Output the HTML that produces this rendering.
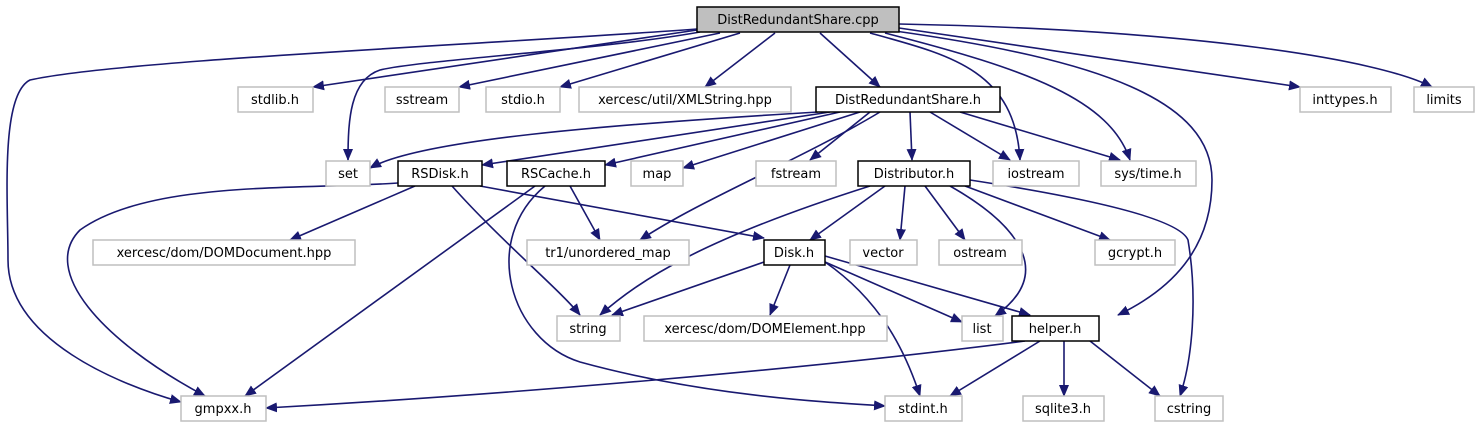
<!DOCTYPE html>
<html><head><meta charset="utf-8"><style>
html,body{margin:0;padding:0;background:#fff;width:1480px;height:427px;overflow:hidden}
text{font-family:"DejaVu Sans","Liberation Sans",sans-serif;font-size:13px;fill:#000}
.e{fill:none;stroke:#191970;stroke-width:1.6;marker-end:url(#a)}
.g{fill:#fff;stroke:#bfbfbf;stroke-width:1.5}
.b{fill:#fff;stroke:#000;stroke-width:1.5}
</style></head><body>
<svg width="1480" height="427" xmlns="http://www.w3.org/2000/svg">
<defs><marker id="a" markerWidth="12" markerHeight="10" refX="11" refY="5" orient="auto" markerUnits="userSpaceOnUse"><polygon points="0,0 12,5 0,10" fill="#191970"/></marker></defs>
<g>
<path class="e" d="M697,29 C480,45 120,60 30,80 C0,95 8,200 8,260 C8,340 120,385 181,402"/>
<path class="e" d="M697,30 L313,87"/>
<path class="e" d="M700,32 C600,50 420,60 380,70 C350,80 348,120 348,160"/>
<path class="e" d="M720,33 L459,87"/>
<path class="e" d="M740,33 L560,87"/>
<path class="e" d="M775,33 L705,87"/>
<path class="e" d="M820,33 L880,87"/>
<path class="e" d="M870,33 C950,55 1015,70 1020,160"/>
<path class="e" d="M885,33 C1030,70 1110,100 1130,160"/>
<path class="e" d="M895,31 C1100,60 1212,100 1212,180 C1212,250 1170,290 1118,315"/>
<path class="e" d="M899,28 L1300,87"/>
<path class="e" d="M899,24 C1200,30 1380,60 1432,87"/>
<path class="e" d="M818,112 C600,125 420,140 370,168"/>
<path class="e" d="M830,112 L482,165"/>
<path class="e" d="M840,112 L605,165"/>
<path class="e" d="M860,112 L683,168"/>
<path class="e" d="M880,112 C800,160 700,200 640,240"/>
<path class="e" d="M870,112 L810,160"/>
<path class="e" d="M910,112 L912,160"/>
<path class="e" d="M930,112 L1010,160"/>
<path class="e" d="M960,112 L1120,160"/>
<path class="e" d="M398,183 C300,190 150,180 80,230 C40,270 100,340 205,396"/>
<path class="e" d="M415,186 L290,240"/>
<path class="e" d="M452,186 C500,240 560,290 580,315"/>
<path class="e" d="M480,186 L764,238"/>
<path class="e" d="M535,186 L245,396"/>
<path class="e" d="M545,186 C480,240 510,340 580,362 C700,395 820,402 885,406"/>
<path class="e" d="M570,186 L600,240"/>
<path class="e" d="M885,186 L810,240"/>
<path class="e" d="M870,186 C700,240 640,280 600,315"/>
<path class="e" d="M905,186 L900,240"/>
<path class="e" d="M925,186 L965,240"/>
<path class="e" d="M950,186 C1010,220 1060,270 995,316"/>
<path class="e" d="M965,186 L1110,240"/>
<path class="e" d="M970,180 C1100,200 1180,220 1188,240 C1198,300 1192,360 1180,396"/>
<path class="e" d="M764,262 L612,315"/>
<path class="e" d="M790,265 L770,315"/>
<path class="e" d="M825,262 C880,300 905,350 920,396"/>
<path class="e" d="M825,262 L962,322"/>
<path class="e" d="M825,256 L1030,315"/>
<path class="e" d="M1025,341 C800,370 500,395 266,408"/>
<path class="e" d="M1040,341 L950,396"/>
<path class="e" d="M1064,341 L1064,396"/>
<path class="e" d="M1090,341 L1160,396"/>
</g>
<g text-anchor="middle">
<rect x="697" y="7" width="202" height="25" fill="#bfbfbf" stroke="#000" stroke-width="1.5"/><text x="798" y="24">DistRedundantShare.cpp</text>
<rect class="g" x="238" y="87" width="75" height="25"/><text x="275" y="104">stdlib.h</text>
<rect class="g" x="385" y="87" width="74" height="25"/><text x="422" y="104">sstream</text>
<rect class="g" x="486" y="87" width="74" height="25"/><text x="523" y="104">stdio.h</text>
<rect class="g" x="579" y="87" width="212" height="25"/><text x="685" y="104">xercesc/util/XMLString.hpp</text>
<rect class="b" x="816" y="87" width="184" height="25"/><text x="908" y="104">DistRedundantShare.h</text>
<rect class="g" x="1300" y="87" width="91" height="25"/><text x="1345" y="104">inttypes.h</text>
<rect class="g" x="1414" y="87" width="60" height="25"/><text x="1444" y="104">limits</text>
<rect class="g" x="326" y="161" width="44" height="25"/><text x="348" y="178">set</text>
<rect class="b" x="398" y="161" width="84" height="25"/><text x="440" y="178">RSDisk.h</text>
<rect class="b" x="507" y="161" width="98" height="25"/><text x="556" y="178">RSCache.h</text>
<rect class="g" x="631" y="161" width="52" height="25"/><text x="657" y="178">map</text>
<rect class="g" x="756" y="161" width="80" height="25"/><text x="796" y="178">fstream</text>
<rect class="b" x="858" y="161" width="112" height="25"/><text x="914" y="178">Distributor.h</text>
<rect class="g" x="993" y="161" width="86" height="25"/><text x="1036" y="178">iostream</text>
<rect class="g" x="1101" y="161" width="95" height="25"/><text x="1148" y="178">sys/time.h</text>
<rect class="g" x="93" y="240" width="262" height="25"/><text x="224" y="257">xercesc/dom/DOMDocument.hpp</text>
<rect class="g" x="527" y="240" width="162" height="25"/><text x="608" y="257">tr1/unordered_map</text>
<rect class="b" x="764" y="240" width="61" height="25"/><text x="794" y="257">Disk.h</text>
<rect class="g" x="850" y="240" width="67" height="25"/><text x="883" y="257">vector</text>
<rect class="g" x="939" y="240" width="83" height="25"/><text x="980" y="257">ostream</text>
<rect class="g" x="1095" y="240" width="80" height="25"/><text x="1135" y="257">gcrypt.h</text>
<rect class="g" x="557" y="316" width="63" height="25"/><text x="588" y="333">string</text>
<rect class="g" x="644" y="316" width="243" height="25"/><text x="765" y="333">xercesc/dom/DOMElement.hpp</text>
<rect class="g" x="962" y="316" width="41" height="25"/><text x="982" y="333">list</text>
<rect class="b" x="1012" y="316" width="87" height="25"/><text x="1055" y="333">helper.h</text>
<rect class="g" x="181" y="396" width="85" height="25"/><text x="223" y="413">gmpxx.h</text>
<rect class="g" x="885" y="396" width="77" height="25"/><text x="923" y="413">stdint.h</text>
<rect class="g" x="1023" y="396" width="81" height="25"/><text x="1063" y="413">sqlite3.h</text>
<rect class="g" x="1155" y="396" width="68" height="25"/><text x="1189" y="413">cstring</text>
</g>
</svg>
</body></html>
